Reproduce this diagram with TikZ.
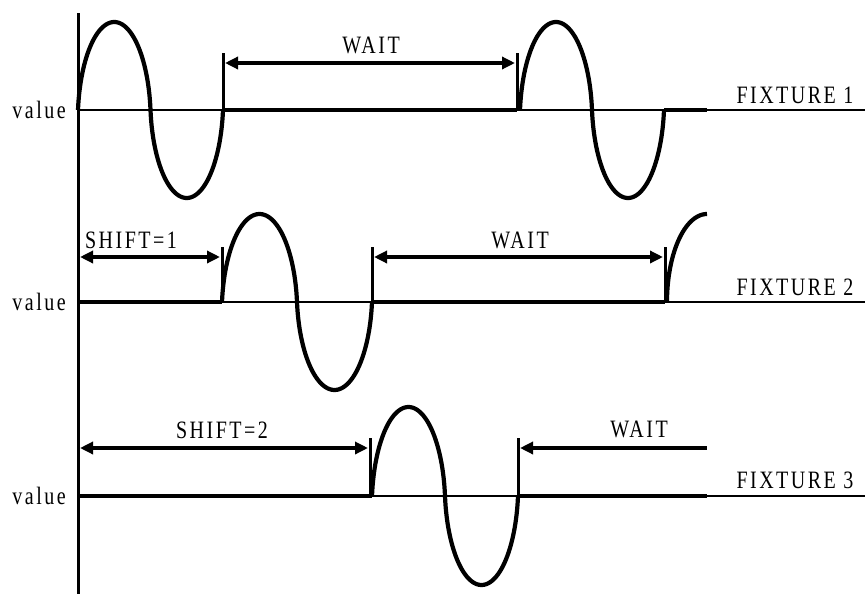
\documentclass[tikz,border=0pt]{standalone}
\usepackage{fontspec}
\setmainfont{Liberation Serif}
\newfontfamily\labfont[FakeStretch=0.8,LetterSpace=10]{Liberation Serif}
\usetikzlibrary{arrows.meta}
\newcommand\mywave[4]{% x0, half period, base, amplitude
  plot[domain=0:180,samples=60] ({#1+#2*(0.85*(1-cos(\x))/2+0.15*\x/180)},{#3-#4*sin(\x)})
  -- plot[domain=180:360,samples=60] ({#1+#2*(0.85*(3+cos(\x))/2+0.15*\x/180)},{#3-#4*sin(\x)})}
\begin{document}
\begin{tikzpicture}[x=1pt,y=-1pt,
  baseln/.style={line width=2pt},
  flat/.style={line width=4.6pt},
  wave/.style={line width=4.2pt,line join=round},
  tickln/.style={line width=3pt},
  dimln/.style={line width=4pt,{Triangle[length=13pt,width=12pt]}-{Triangle[length=13pt,width=12pt]}},
  leftdim/.style={line width=4pt,{Triangle[length=13pt,width=12pt]}-},
  lab/.style={font=\labfont\fontsize{25}{25}\selectfont,inner sep=0pt}]
\useasboundingbox (0,0) rectangle (865,597);
% baselines
\foreach \b in {110,302,496} \draw[baseln] (78,\b) -- (865,\b);
% row 1
\draw[flat] (223,110) -- (517,110);
\draw[flat] (664,110) -- (707,110);
\draw[wave] \mywave{78}{72.5}{110}{88};
\draw[wave] \mywave{520}{72}{110}{88};
\coordinate (r1a) at (223,53); \coordinate (r1b) at (517,53);
\draw[tickln] (r1a) -- (223,110);
\draw[tickln] (r1b) -- (517,110);
\coordinate (r1al) at (225,63); \coordinate (r1bl) at (515,63);
\draw[dimln] (r1al) -- (r1bl);
\node[lab,anchor=base] (wait1) at (371,53) {WAIT};
\node[lab,anchor=base] (fix1) at (795,103) {FIXTURE 1};
\node[lab,anchor=east] (val1) at (66,110) {value};
% row 2
\draw[flat] (78,302) -- (222,302);
\draw[flat] (372,302) -- (665,302);
\draw[wave] \mywave{222}{75}{302}{88};
\draw[wave] plot[domain=180:270,samples=40] ({707+40*cos(\x)},{302+88*sin(\x)});
\draw[tickln] (222,247) -- (222,302);
\draw[tickln] (372,247) -- (372,302);
\draw[tickln] (665,247) -- (665,302);
\coordinate (s1a) at (80,257); \coordinate (s1b) at (220,257);
\draw[dimln] (s1a) -- (s1b);
\coordinate (w2a) at (374,257); \coordinate (w2b) at (663,257);
\draw[dimln] (w2a) -- (w2b);
\node[lab,anchor=base] (shift1) at (131,248) {SHIFT=1};
\node[lab,anchor=base] (wait2) at (520,248) {WAIT};
\node[lab,anchor=base] (fix2) at (795,295) {FIXTURE 2};
\node[lab,anchor=east] (val2) at (66,302) {value};
% row 3
\draw[flat] (78,496) -- (372,496);
\draw[flat] (518,496) -- (707,496);
\draw[wave] \mywave{372}{73}{496}{89};
\draw[tickln] (370,438) -- (370,496);
\draw[tickln] (518,438) -- (518,496);
\coordinate (s2a) at (80,448); \coordinate (s2b) at (368,448);
\draw[dimln] (s2a) -- (s2b);
\coordinate (w3a) at (520,448); \coordinate (w3b) at (707,448);
\draw[leftdim] (w3a) -- (w3b);
\node[lab,anchor=base] (shift2) at (222,438) {SHIFT=2};
\node[lab,anchor=base] (wait3) at (639,437) {WAIT};
\node[lab,anchor=base] (fix3) at (795,488) {FIXTURE 3};
\node[lab,anchor=east] (val3) at (66,496) {value};
% axis
\draw[line width=3pt] (78,13) -- (78,594);
\end{tikzpicture}
\end{document}
